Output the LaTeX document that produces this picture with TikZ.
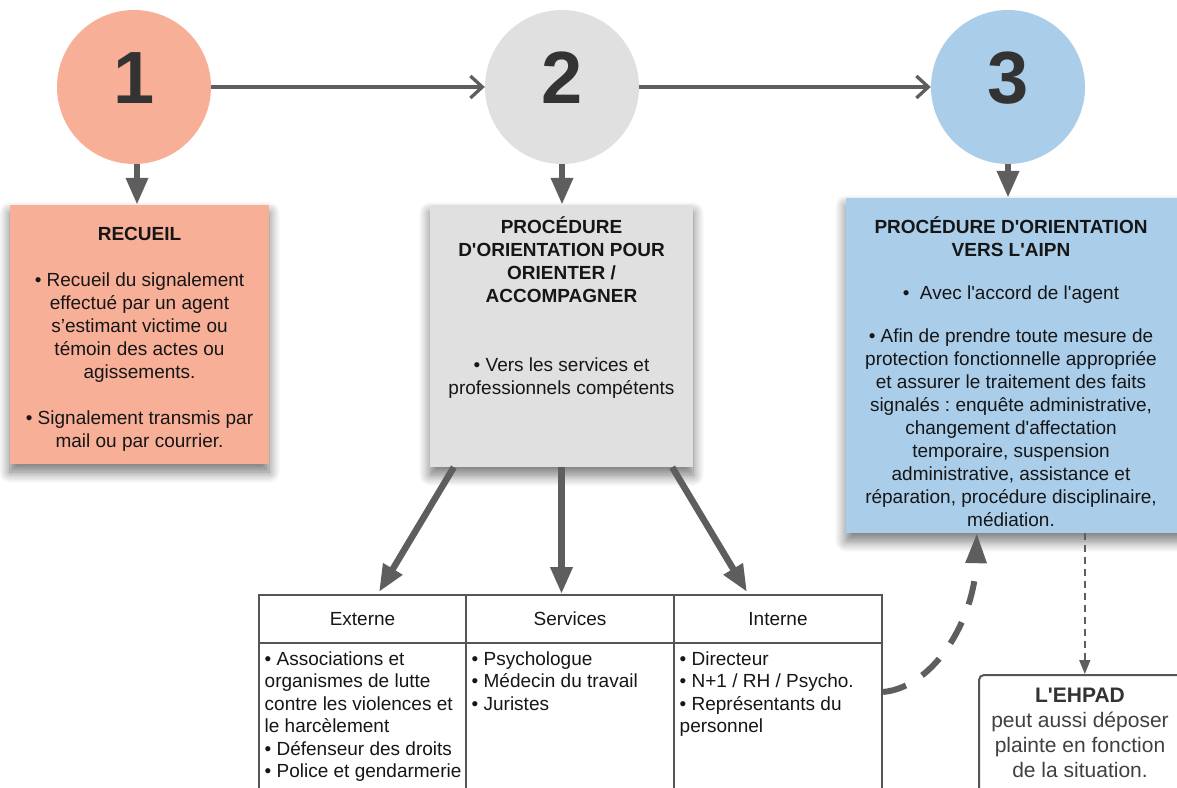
\documentclass[tikz,border=0pt]{standalone}
\usepackage{fontspec}
\newfontfamily\lsans{Liberation Sans}
\usetikzlibrary{arrows.meta,calc,shadows.blur}
\definecolor{salmon}{RGB}{248,175,151}
\definecolor{lgrey}{RGB}{224,224,224}
\definecolor{lblue}{RGB}{170,205,234}
\definecolor{arr}{RGB}{94,94,94}
\definecolor{dig}{RGB}{51,51,51}
\definecolor{txt}{RGB}{22,22,22}
\definecolor{tline}{RGB}{85,85,85}
\definecolor{etxt}{RGB}{64,64,64}
\newcommand\fsz[2]{\lsans\fontsize{#1}{#2}\selectfont\frenchspacing}
\frenchspacing
\begin{document}
\begin{tikzpicture}[x=1pt,y=-1pt,
  stepcircle/.style={circle, minimum size=154pt, inner sep=0pt, text=dig,
    font=\fsz{74}{74}\bfseries, text height=53pt, text depth=20pt},
  panel/.style={rectangle, inner sep=0pt,
    blur shadow={shadow xshift=0pt, shadow yshift=-8pt, shadow blur radius=11pt, shadow blur steps=10, shadow opacity=55}},
  boxtext/.style={anchor=north, inner sep=0pt, align=center, text=txt, font=\fsz{19}{23}},
  tabtext/.style={anchor=north west, inner sep=0pt, align=left, text=txt, font=\fsz{19}{22.5}},
  cell/.style={rectangle, draw=tline, line width=2pt, fill=white, inner sep=0pt, text=txt, font=\fsz{19}{23}},
  ebox/.style={rectangle, draw=tline, line width=2pt, rounded corners=5pt, fill=white, inner sep=0pt},
  hline/.style={draw=arr, line width=3.3pt, -{Straight Barb[length=12pt,width=22pt]}},
  fatarrow/.style={draw=arr, line width=6.5pt, -{Triangle[length=27pt,width=21pt]}},
  dcurve/.style={draw=arr, line width=6pt, dash pattern=on 24pt off 19pt, -{Triangle[length=30pt,width=20pt]}},
  tdash/.style={draw=arr, line width=1.6pt, dash pattern=on 7pt off 5pt, -{Triangle[length=14pt,width=11pt]}}
]
\useasboundingbox (0,0) rectangle (1177,787);

% panels
\node[panel, fill=salmon, minimum width=259pt, minimum height=259pt] (b1) at (139.5,334.5) {};
\node[panel, fill=lgrey, minimum width=263pt, minimum height=262pt] (b2) at (561.5,336) {};
\node[panel, fill=lblue, minimum width=344pt, minimum height=335pt] (b3) at (1018,365.5) {};

% circles
\node[stepcircle, fill=salmon] (c1) at (134,87) {1};
\node[stepcircle, fill=lgrey] (c2) at (562,87) {2};
\node[stepcircle, fill=lblue] (c3) at (1008,87) {3};

% table
\node[cell, minimum width=207pt, minimum height=48pt] (h1) at (362.5,619) {Externe};
\node[cell, minimum width=208pt, minimum height=48pt] (h2) at (570,619) {Services};
\node[cell, minimum width=208pt, minimum height=48pt] (h3) at (778,619) {Interne};
\node[cell, minimum width=207pt, minimum height=160pt] (t1) at (362.5,723) {};
\node[cell, minimum width=208pt, minimum height=160pt] (t2) at (570,723) {};
\node[cell, minimum width=208pt, minimum height=160pt] (t3) at (778,723) {};

% EHPAD box
\node[ebox, minimum width=211pt, minimum height=125pt] (e) at (1084.5,737.5) {};

% connectors
\draw[hline] (c1.east) -- (c2.west);
\draw[hline] (c2.east) -- (c3.west);
\draw[fatarrow] ($(c1.south)+(3,0)$) -- ($(c1.south |- b1.north)+(3,0)$);
\draw[fatarrow] (c2.south) -- (c2.south |- b2.north);
\draw[fatarrow] (c3.south) -- (c3.south |- b3.north);

\coordinate (l0) at ($(b2.south west)+(24,0)$);
\coordinate (l1) at ($(h1.north west)+(121,-2)$);
\coordinate (r0) at ($(b2.south east)+(-21,0)$);
\coordinate (r1) at ($(h3.north west)+(74,-2)$);
\draw[fatarrow] (l0) -- (l1);
\draw[fatarrow] (b2.south) -- (b2.south |- h2.north);
\draw[fatarrow] (r0) -- (r1);

\coordinate (ds) at ($(t3.north east)+(0,50)$);
\coordinate (de) at ($(b3.south west)+(131,0)$);
\draw[dcurve] (ds) .. controls +(52,-5) and +(-2,85) .. (de);

\coordinate (ts) at ($(b3.south west)+(239,0)$);
\draw[tdash] (ts) -- (ts |- e.north);

% texts
\node[boxtext] (x1) at (139.5,222) {\rule{0pt}{18pt}\textbf{RECUEIL}\\[23pt]
• Recueil du signalement\\ effectué par un agent\\ s’estimant victime ou\\ témoin des actes ou\\ agissements.\\[23pt]
• Signalement transmis par\\ mail ou par courrier.};

\node[boxtext] (x2) at (561.5,215) {\rule{0pt}{18pt}\textbf{PROCÉDURE}\\ \textbf{D'ORIENTATION POUR}\\ \textbf{ORIENTER /}\\ \textbf{ACCOMPAGNER}\\[46pt]
• Vers les services et\\ professionnels compétents};

\node[boxtext] (x3) at (1011,215) {\rule{0pt}{18pt}\textbf{PROCÉDURE D'ORIENTATION}\\ \textbf{VERS L'AIPN}\\[20.5pt]
•\hspace{0.55em}Avec l'accord de l'agent\\[19.5pt]
• Afin de prendre toute mesure de\\ protection fonctionnelle appropriée\\ et assurer le traitement des faits\\ signalés : enquête administrative,\\ changement d'affectation\\ temporaire, suspension\\ administrative, assistance et\\ réparation, procédure disciplinaire,\\ médiation.};

\node[tabtext] (y1) at (264.5,647) {\rule{0pt}{18pt}• Associations et\\ organismes de lutte\\ contre les violences et\\ le harcèlement\\ • Défenseur des droits\\ • Police et gendarmerie};
\node[tabtext] (y2) at (471.5,647) {\rule{0pt}{18pt}• Psychologue\\ • Médecin du travail\\ • Juristes};
\node[tabtext] (y3) at (679.5,647) {\rule{0pt}{18pt}• Directeur\\ • N+1 / RH / Psycho.\\ • Représentants du\\ personnel};

\node[anchor=north, inner sep=0pt, align=center, text=etxt, font=\fsz{21}{25}] (x4) at (1080,684)
{\rule{0pt}{18pt}\textcolor{dig}{\textbf{L'EHPAD}}\\ peut aussi déposer\\ plainte en fonction\\ de la situation.};
\end{tikzpicture}
\end{document}
